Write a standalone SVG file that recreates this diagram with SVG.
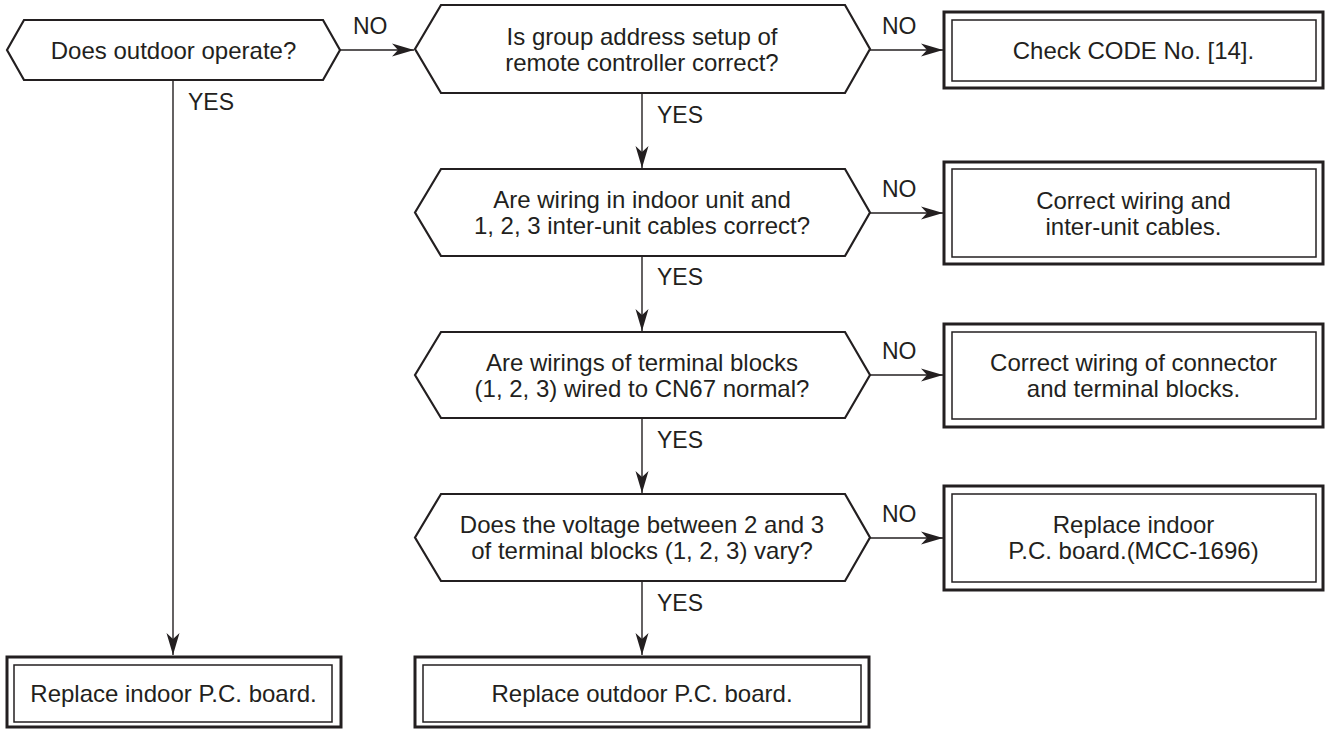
<svg xmlns="http://www.w3.org/2000/svg" width="1326" height="729" viewBox="0 0 1326 729">
<style>
text{font-family:"Liberation Sans",Arial,sans-serif;fill:#231f20}
.t{font-size:24px;text-anchor:middle}
.l{font-size:23px}
.hex{fill:#fff;stroke:#231f20;stroke-width:2.2;stroke-linejoin:miter}
.ob{fill:#fff;stroke:#231f20;stroke-width:3}
.ib{fill:none;stroke:#231f20;stroke-width:1.5}
.c{fill:none;stroke:#231f20;stroke-width:1.4}
</style>
<defs>
<marker id="ah" markerUnits="userSpaceOnUse" markerWidth="24" markerHeight="16" viewBox="-23 -8 24 16" refX="0" refY="0" orient="auto">
<path d="M0,0 L-22,-6.5 L-16,0 L-22,6.5 Z" fill="#231f20"/>
</marker>
</defs>
<g id="connectors">
<line class="c" x1="340" y1="50" x2="414" y2="50" marker-end="url(#ah)"/>
<line class="c" x1="173" y1="80" x2="173" y2="655" marker-end="url(#ah)"/>
<line class="c" x1="870" y1="50" x2="943" y2="50" marker-end="url(#ah)"/>
<line class="c" x1="642" y1="93" x2="642" y2="168" marker-end="url(#ah)"/>
<line class="c" x1="870" y1="213" x2="943" y2="213" marker-end="url(#ah)"/>
<line class="c" x1="642" y1="256" x2="642" y2="331" marker-end="url(#ah)"/>
<line class="c" x1="870" y1="375" x2="943" y2="375" marker-end="url(#ah)"/>
<line class="c" x1="642" y1="418" x2="642" y2="493" marker-end="url(#ah)"/>
<line class="c" x1="870" y1="538" x2="943" y2="538" marker-end="url(#ah)"/>
<line class="c" x1="642" y1="581" x2="642" y2="655" marker-end="url(#ah)"/>
<text class="l" x="353" y="34">NO</text>
<text class="l" x="188" y="110">YES</text>
<text class="l" x="882" y="34">NO</text>
<text class="l" x="657" y="123">YES</text>
<text class="l" x="882" y="197">NO</text>
<text class="l" x="657" y="285">YES</text>
<text class="l" x="882" y="359">NO</text>
<text class="l" x="657" y="448">YES</text>
<text class="l" x="882" y="522">NO</text>
<text class="l" x="657" y="611">YES</text>
</g>
<g id="q1">
<polygon class="hex" points="7,50 24,20 323,20 340,50 323,80 24,80"/>
<text class="t" x="173.5" y="58.5">Does outdoor operate?</text>
</g>
<g id="q2">
<polygon class="hex" points="415,49 441,5 845,5 870,49 845,93 441,93"/>
<text class="t" x="642" y="44.5">Is group address setup of</text>
<text class="t" x="642" y="70.5">remote controller correct?</text>
</g>
<g id="q3">
<polygon class="hex" points="415,212.5 441,169 845,169 870,212.5 845,256 441,256"/>
<text class="t" x="642" y="208">Are wiring in indoor unit and</text>
<text class="t" x="642" y="234">1, 2, 3 inter-unit cables correct?</text>
</g>
<g id="q4">
<polygon class="hex" points="415,375 441,332 845,332 870,375 845,418 441,418"/>
<text class="t" x="642" y="371">Are wirings of terminal blocks</text>
<text class="t" x="642" y="397">(1, 2, 3) wired to CN67 normal?</text>
</g>
<g id="q5">
<polygon class="hex" points="415,537.5 441,494 845,494 870,537.5 845,581 441,581"/>
<text class="t" x="642" y="533">Does the voltage between 2 and 3</text>
<text class="t" x="642" y="559">of terminal blocks (1, 2, 3) vary?</text>
</g>
<g id="a1">
<rect class="ob" x="944" y="12" width="379" height="76"/>
<rect class="ib" x="952" y="20" width="364" height="61"/>
<text class="t" x="1133.5" y="59">Check CODE No. [14].</text>
</g>
<g id="a2">
<rect class="ob" x="944" y="162" width="379" height="102"/>
<rect class="ib" x="952" y="169" width="364" height="88"/>
<text class="t" x="1133.5" y="209">Correct wiring and</text>
<text class="t" x="1133.5" y="235">inter-unit cables.</text>
</g>
<g id="a3">
<rect class="ob" x="944" y="324" width="379" height="103"/>
<rect class="ib" x="952" y="332" width="364" height="87"/>
<text class="t" x="1133.5" y="371">Correct wiring of connector</text>
<text class="t" x="1133.5" y="397">and terminal blocks.</text>
</g>
<g id="a4">
<rect class="ob" x="944" y="486" width="379" height="104"/>
<rect class="ib" x="952" y="494" width="364" height="88"/>
<text class="t" x="1133.5" y="533">Replace indoor</text>
<text class="t" x="1133.5" y="559">P.C. board.(MCC-1696)</text>
</g>
<g id="a5">
<rect class="ob" x="7" y="657" width="334" height="70"/>
<rect class="ib" x="14" y="665" width="318" height="57"/>
<text class="t" x="173.5" y="702">Replace indoor P.C. board.</text>
</g>
<g id="a6">
<rect class="ob" x="415" y="657" width="454" height="70"/>
<rect class="ib" x="423" y="665" width="438" height="57"/>
<text class="t" x="642" y="702">Replace outdoor P.C. board.</text>
</g>
</svg>
